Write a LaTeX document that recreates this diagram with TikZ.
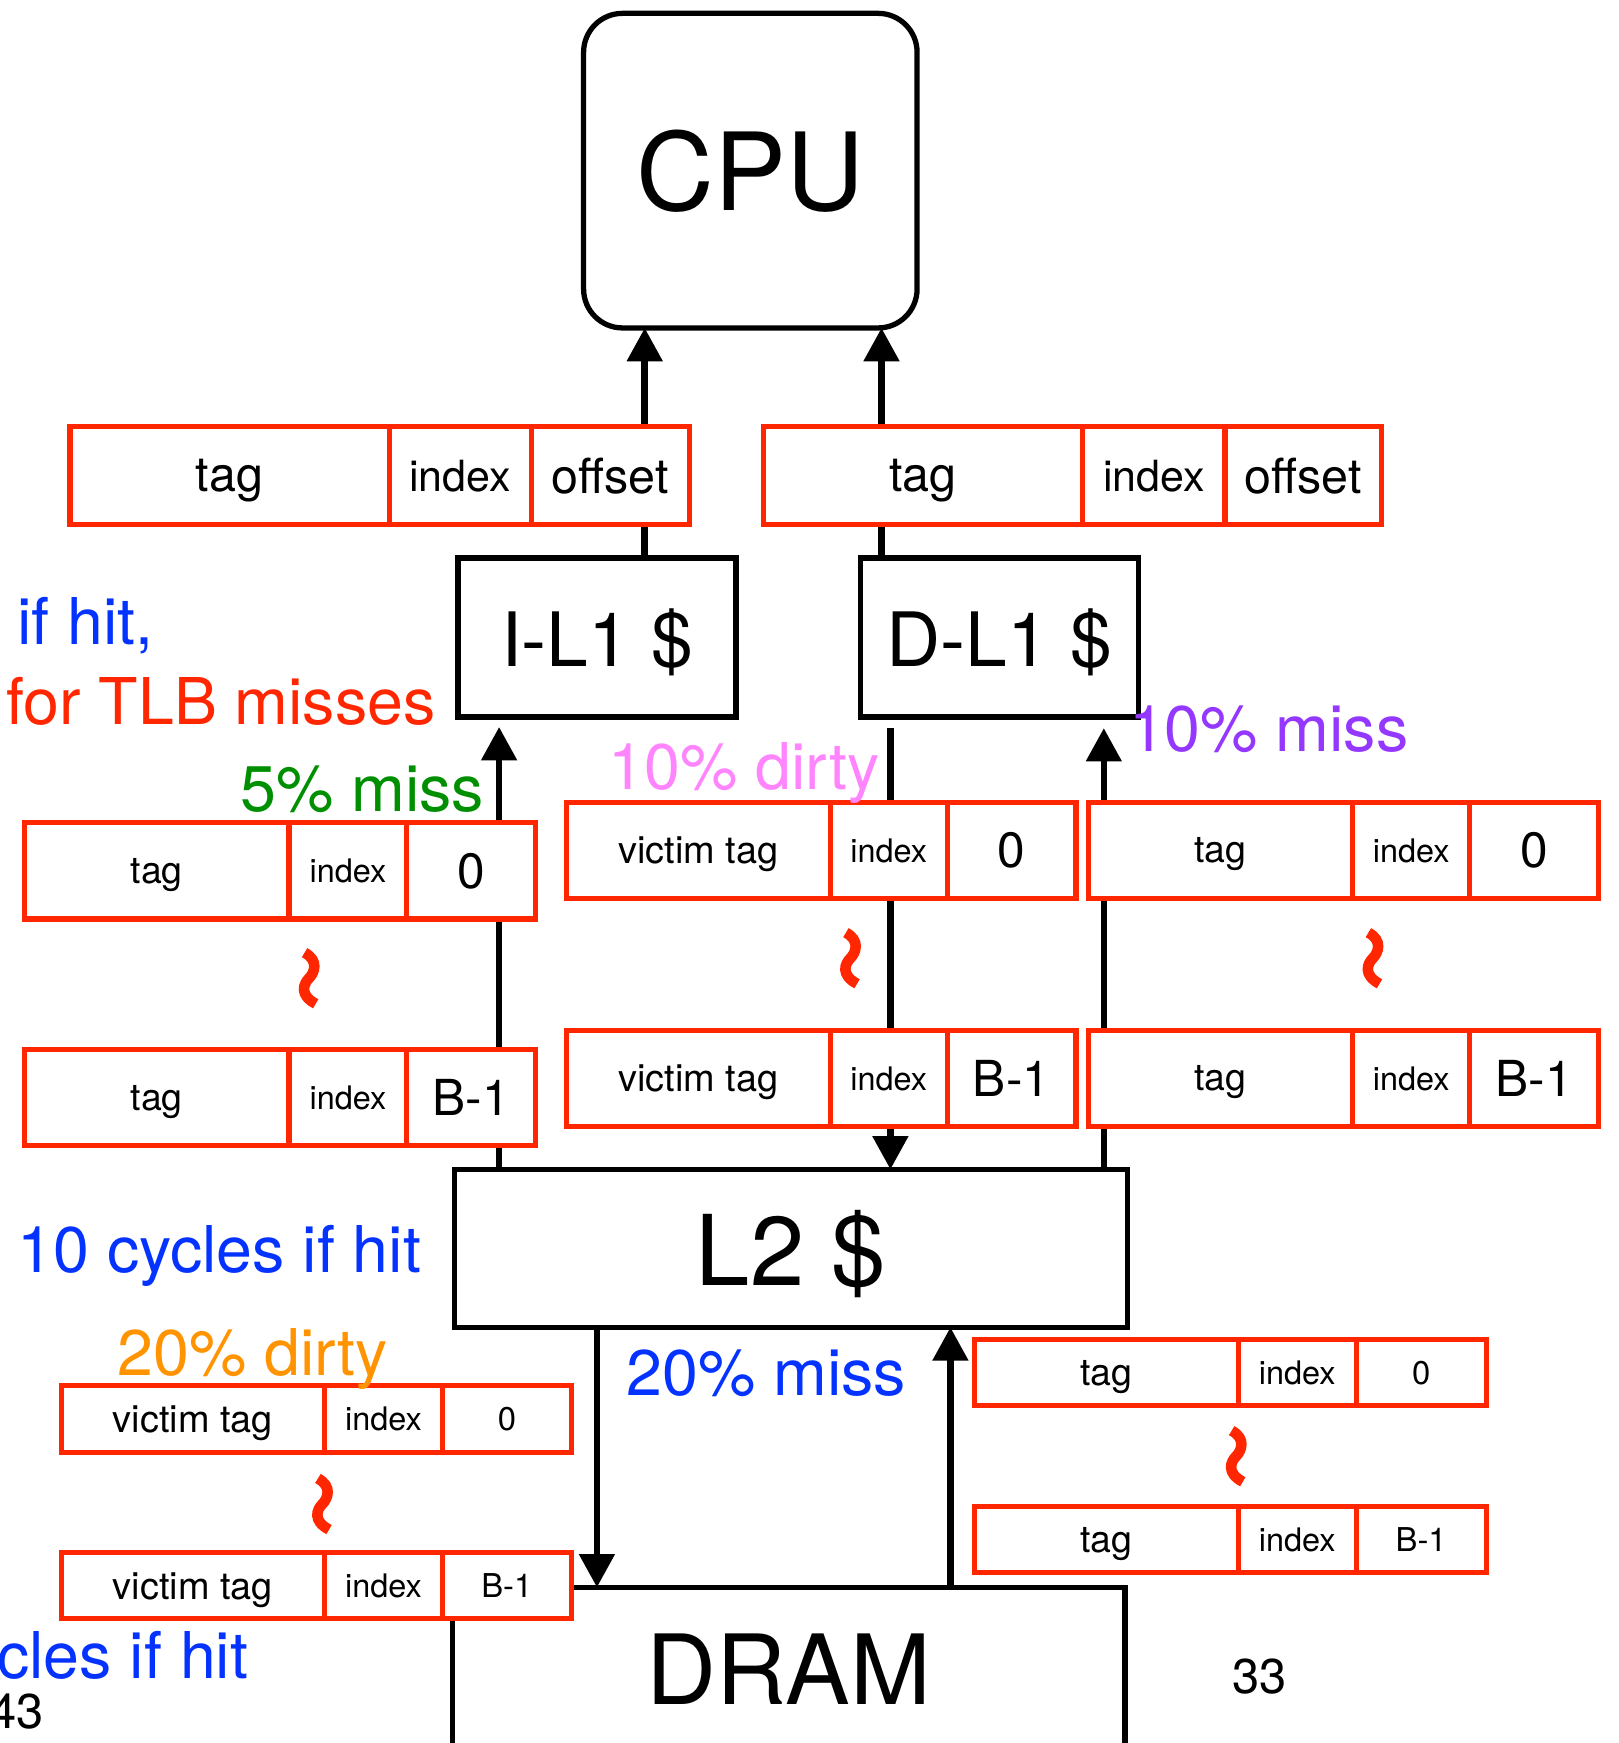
\documentclass[tikz,border=0pt]{standalone}
\usepackage{fontspec}
\setmainfont{TeX Gyre Heros}
\usetikzlibrary{arrows.meta, backgrounds}
\definecolor{fieldred}{HTML}{FF2600}
\definecolor{hitblue}{HTML}{0433FF}
\definecolor{missgreen}{HTML}{008F00}
\definecolor{dirtypink}{HTML}{FF85FF}
\definecolor{misspurple}{HTML}{9437FF}
\definecolor{dirtyorange}{HTML}{FF9300}
\newcommand\fsz[1]{\fontsize{#1}{#1}\selectfont}
% one row of an address: three red fields side by side
\newcommand\fieldrow[9]{%
  \node[field, #3, minimum width=#4, anchor=west] (#1a) at #2 {#7};
  \node[field, #3, minimum width=#5, anchor=west] (#1b) at (#1a.east) {#8};
  \node[field, #3, minimum width=#6, anchor=west] (#1c) at (#1b.east) {#9};
}
\tikzset{
  unit/.style={draw, line width=1.35pt, fill=white, inner sep=0pt, outer sep=0pt, text depth=0pt},
  field/.style={draw=fieldred, line width=1.3pt, fill=white, inner sep=0pt, outer sep=0pt, text depth=0pt},
  rowA/.style={minimum height=8.8mm, font=\fsz{12.4}},
  rowB/.style={minimum height=8.65mm, font=\fsz{12.7}},
  rowE/.style={minimum height=5.95mm, font=\fsz{8.4}},
  arr/.style={line width=1.7pt, -{Triangle[length=3mm, width=3.1mm]}},
  note/.style={inner sep=0pt, font=\fsz{16.5}},
  squiggle/.pic={
    \draw[fieldred, line width=2.7pt] (-4,-23) .. controls (9,-16) and (5,-5) .. (0,0)
      .. controls (-5,5) and (-9,15) .. (6,23);
  },
}
\begin{document}
\begin{tikzpicture}[x=0.1mm, y=-0.1mm]
\useasboundingbox (0,0) rectangle (1456,1568);

% cpu, caches, memory
\node[unit, rounded corners=3.5mm, minimum width=30mm, minimum height=28.3mm, font=\fsz{27.6}] (cpu) at (675,153.5) {CPU};
\node[unit, minimum width=25mm, minimum height=14.3mm, font=\fsz{19.2}] (il1) at (537,573.5) {I-L1 \$};
\node[unit, minimum width=25mm, minimum height=14.3mm, font=\fsz{19.2}] (dl1) at (899,573.5) {D-L1 \$};
\node[unit, minimum width=60.5mm, minimum height=14.2mm, font=\fsz{25}] (l2) at (711.5,1123) {L2 \$};
\node[unit, minimum width=60.5mm, minimum height=14.7mm, font=\fsz{24.8}, anchor=north] (dram) at (709.5,1428) {DRAM};

% addresses
\fieldrow{ai}{(63,428)}{rowA}{28.7mm}{12.8mm}{14.2mm}{tag}{\fsz{11}index}{offset}
\fieldrow{ad}{(687,428)}{rowA}{28.7mm}{12.8mm}{14.1mm}{tag}{\fsz{11}index}{offset}

\fieldrow{ti}{(22,783.5)}{rowB}{23.8mm}{10.6mm}{11.6mm}{\fsz{9.6}tag}{\fsz{8.3}index}{0}
\fieldrow{bi}{(22,987.5)}{rowB}{23.8mm}{10.6mm}{11.6mm}{\fsz{9.6}tag}{\fsz{8.3}index}{B-1}
\fieldrow{tv}{(510,765)}{rowB}{23.7mm}{10.5mm}{11.6mm}{\fsz{9.7}victim tag}{\fsz{8.3}index}{0}
\fieldrow{bv}{(510,970)}{rowB}{23.7mm}{10.5mm}{11.6mm}{\fsz{9.7}victim tag}{\fsz{8.3}index}{B-1}
\fieldrow{td}{(979,765)}{rowB}{23.8mm}{10.5mm}{11.6mm}{\fsz{9.6}tag}{\fsz{8.3}index}{0}
\fieldrow{bd}{(979,970)}{rowB}{23.8mm}{10.5mm}{11.6mm}{\fsz{9.6}tag}{\fsz{8.3}index}{B-1}

\fieldrow{tw}{(55,1276.5)}{rowE}{23.7mm}{10.6mm}{11.6mm}{\fsz{9.7}victim tag}{\fsz{8.3}index}{0}
\fieldrow{bw}{(55,1426.5)}{rowE}{23.7mm}{10.6mm}{11.6mm}{\fsz{9.7}victim tag}{\fsz{8.3}index}{B-1}
\fieldrow{tl}{(877,1235)}{rowE}{23.7mm}{10.6mm}{11.7mm}{\fsz{9.6}tag}{\fsz{8.3}index}{0}
\fieldrow{bl}{(877,1385)}{rowE}{23.7mm}{10.6mm}{11.7mm}{\fsz{9.6}tag}{\fsz{8.3}index}{B-1}

\pic (sqi) at (278,880) {squiggle};
\pic (sqv) at (765,862) {squiggle};
\pic (sqd) at (1235,862) {squiggle};
\pic (sqw) at (290,1353) {squiggle};
\pic (sql) at (1112,1310) {squiggle};

% connectors
\coordinate (il1gap) at ([yshift=-0.9mm]il1.south);
\coordinate (dl1gap) at ([yshift=-1mm]dl1.south);
\coordinate (ifetch) at (580,0);
\coordinate (dfetch) at (793,0);
\coordinate (ifill) at (449,0);
\coordinate (dvict) at (801,0);
\coordinate (dfill) at (993,0);
\coordinate (l2vict) at (537,0);
\coordinate (l2fill) at (855,0);
\begin{scope}[on background layer]
  \draw[arr] (il1.north -| ifetch) -- (cpu.south -| ifetch);
  \draw[arr] (dl1.north -| dfetch) -- (cpu.south -| dfetch);
  \draw[arr] (l2.north -| ifill) -- (il1gap -| ifill);
  \draw[arr] (dl1gap -| dvict) -- (l2.north -| dvict);
  \draw[arr] (l2.north -| dfill) -- (dl1gap -| dfill);
  \draw[arr] (l2.south -| l2vict) -- (dram.north -| l2vict);
  \draw[arr] (dram.north -| l2fill) -- (l2.south -| l2fill);
\end{scope}

% labels
\node[note, text=hitblue, anchor=base west] (ihit) at (15,580) {if hit,};
\node[note, text=fieldred, anchor=base west] (tlb) at (5,652) {for TLB misses};
\node[note, text=missgreen, anchor=base east] (imiss) at (436,730) {5\% miss};
\node[note, text=dirtypink, anchor=base west] (ddirty) at (547,710) {10\% dirty};
\node[note, text=misspurple, anchor=base west] (dmiss) at (1015,676) {10\% miss};
\node[note, text=hitblue, anchor=base west] (l2hit) at (15,1145) {10 cycles if hit};
\node[note, text=dirtyorange, anchor=base west] (l2dirty) at (105,1237) {20\% dirty};
\node[note, text=hitblue, anchor=base west] (l2miss) at (563,1255) {20\% miss};
\node[note, text=hitblue, anchor=base west] (memhit) at (-3,1510) {cles if hit};
\node[inner sep=0pt, font=\fsz{12.5}, anchor=base east] (pgl) at (40,1555) {43};
\node[inner sep=0pt, font=\fsz{12.5}, anchor=base west] (pgr) at (1108,1523) {33};
\end{tikzpicture}
\end{document}
